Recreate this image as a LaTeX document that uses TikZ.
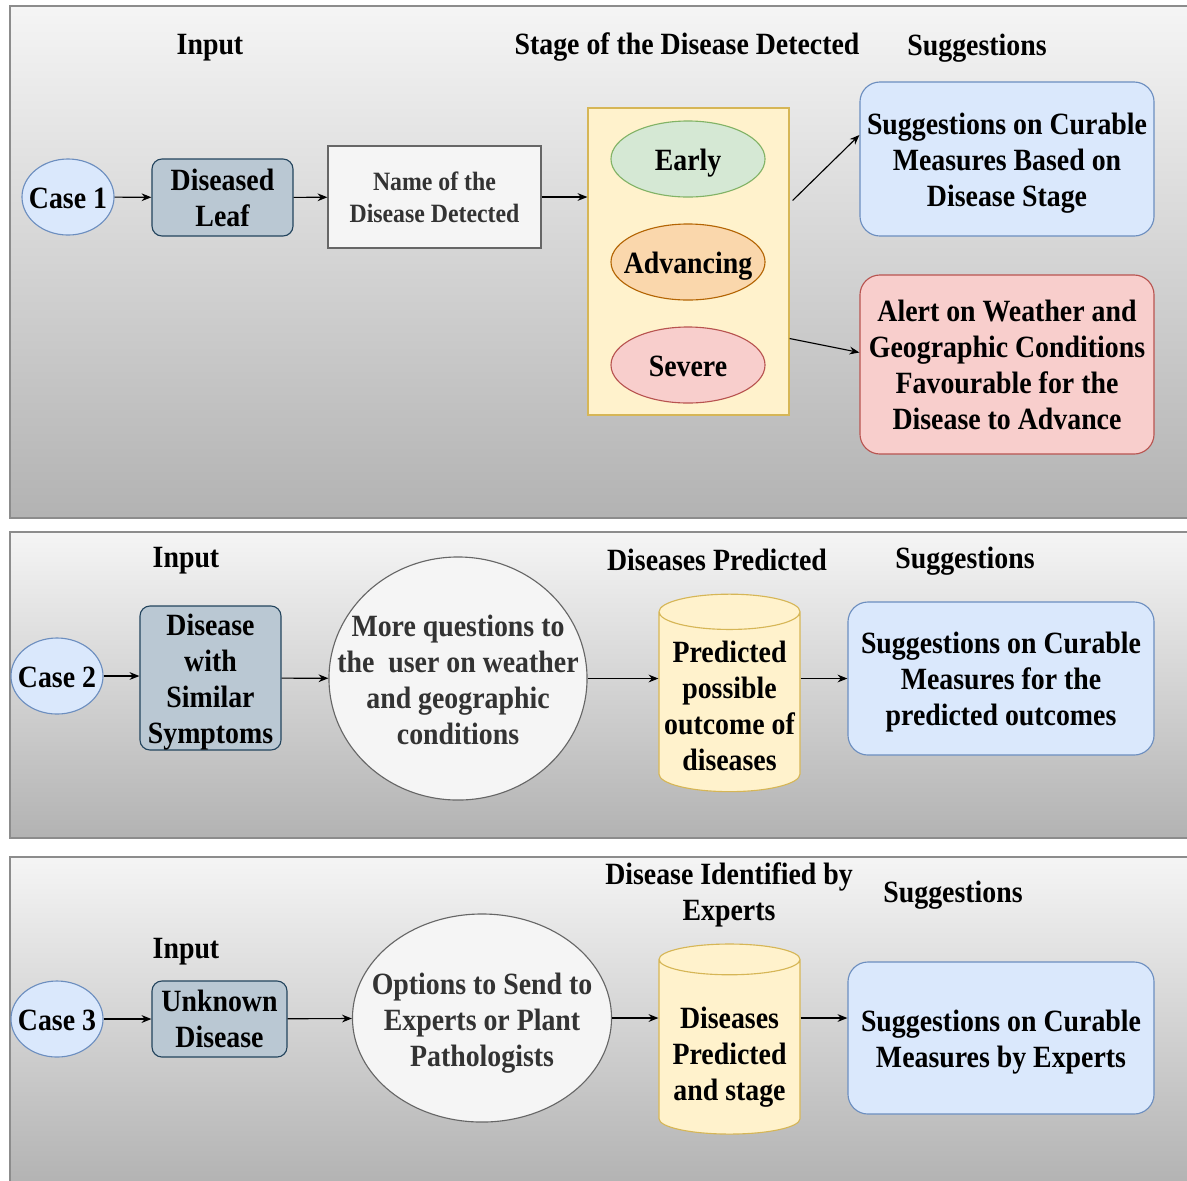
\documentclass[tikz,border=0pt]{standalone}
\usepackage{fontspec}
\setmainfont{Liberation Serif}[FakeStretch=0.9]
\usetikzlibrary{positioning, calc, arrows.meta, shapes.geometric}

\definecolor{caseFill}{HTML}{DAE8FC}
\definecolor{caseLine}{HTML}{6C8EBF}
\definecolor{inFill}{HTML}{BAC8D3}
\definecolor{inLine}{HTML}{23445D}
\definecolor{greyFill}{HTML}{F5F5F5}
\definecolor{greyLine}{HTML}{666666}
\definecolor{greyText}{HTML}{333333}
\definecolor{yelFill}{HTML}{FFF2CC}
\definecolor{yelLine}{HTML}{D6B656}
\definecolor{greenFill}{HTML}{D5E8D4}
\definecolor{greenLine}{HTML}{82B366}
\definecolor{orangeFill}{HTML}{FAD7AC}
\definecolor{orangeLine}{HTML}{B46504}
\definecolor{redFill}{HTML}{F8CECC}
\definecolor{redLine}{HTML}{B85450}

% text lowered a little, and text that does not widen its shape
\newcommand{\sunk}[2][3pt]{\raisebox{-#1}[\height][\depth]{\begin{tabular}{@{}c@{}}#2\end{tabular}}}
\newcommand{\slim}[2][3pt]{\makebox[0pt]{\sunk[#1]{#2}}}

\begin{document}
\begin{tikzpicture}[x=0.025cm, y=-0.025cm,
    txt/.style={font=\fontsize{22}{25.6}\selectfont\bfseries, align=center, inner sep=0pt},
    panel/.style={top color=gray!8, bottom color=gray!60, draw=gray!90, line width=0.8pt},
    casenode/.style={txt, ellipse, draw=caseLine, fill=caseFill, line width=0.8pt,
        minimum width=2.3cm, minimum height=1.9cm},
    inputbox/.style={txt, rectangle, rounded corners=0.25cm, draw=inLine, fill=inFill, line width=0.8pt},
    greyshape/.style={txt, draw=greyLine, fill=greyFill, text=greyText, line width=0.8pt},
    stage/.style={txt, ellipse, line width=0.8pt, minimum width=3.85cm, minimum height=1.9cm},
    roundbox/.style={txt, rectangle, rounded corners=0.5cm, line width=0.8pt, minimum width=7.35cm},
    store/.style={txt, cylinder, shape border rotate=90, aspect=0.27, draw=yelLine, fill=yelFill,
        line width=0.8pt, minimum width=3.525cm, minimum height=4.775cm},
    link/.style={-{Stealth[length=7pt, width=5.5pt]}, line width=0.8pt}
]
\fill[white] (0,0) rectangle (1187,1180);
\useasboundingbox (0,0) rectangle (1187,1180);

% ;- Case 1 ;-
\shade[panel] (10,6) rectangle (1190,518);
\node[txt] (hin1) at (210,48) {Input};
\node[txt] (hst1) at (687,47) {Stage of the Disease Detected};
\node[txt] (hsg1) at (977,48) {Suggestions};

\node[casenode] (case1) at (68,197) {\slim{Case 1}};
\node[inputbox, minimum width=3.525cm, minimum height=1.925cm] (leaf1) at (222.5,197.5) {Diseased\\Leaf};
\node[greyshape, rectangle, minimum width=5.325cm, minimum height=2.55cm,
    font=\fontsize{18.8}{22.7}\selectfont\bfseries] (name1) at (434.5,197) {Name of the\\Disease Detected};
\node[rectangle, draw=yelLine, fill=yelFill, line width=0.8pt,
    minimum width=5.025cm, minimum height=7.675cm] (stage1) at (688.5,261.5) {};
\node[stage, draw=greenLine, fill=greenFill] (early) at (688,159) {\slim{Early}};
\node[stage, draw=orangeLine, fill=orangeFill] (advancing) at (688,262) {\slim{Advancing}};
\node[stage, draw=redLine, fill=redFill] (severe) at (688,365) {\slim{Severe}};
\node[roundbox, draw=caseLine, fill=caseFill, minimum height=3.85cm] (sugg1) at (1007,159)
    {\slim{Suggestions on Curable\\Measures Based on\\Disease Stage}};
\node[roundbox, draw=redLine, fill=redFill, minimum height=4.475cm] (alert1) at (1007,364.5)
    {Alert on Weather and\\Geographic Conditions\\Favourable for the\\Disease to Advance};

\draw[link] (case1) -- (leaf1);
\draw[link] (leaf1) -- (name1);
\draw[link] (name1.east) -- (name1.east -| stage1.west);
\draw[link] ($(stage1.east)+(3,-61)$) -- ($(sugg1.west)+(0,-24)$);
\draw[link] ($(stage1.east)+(0,77)$) -- ($(alert1.west)+(0,-12)$);

% ;- Case 2 ;-
\shade[panel] (10,532) rectangle (1190,838);
\node[txt] (hin2) at (186,561) {Input};
\node[txt] (hdp2) at (717,560) {Diseases Predicted};
\node[txt] (hsg2) at (965,561) {Suggestions};

\node[casenode] (case2) at (57,676) {\slim{Case 2}};
\node[inputbox, minimum width=3.525cm, minimum height=3.5cm] (similar2) at (210.5,678)
    {\slim{Disease\\with\\Similar\\Symptoms}};
\node[greyshape, ellipse, minimum width=6.45cm, minimum height=6.075cm] (questions2) at (458,678.5)
    {\slim[3.5pt]{More questions to\\the\ \ user on weather\\and geographic\\conditions}};
\node[store] (predicted2) at (729.5,702) {\sunk[5pt]{Predicted\\possible\\outcome of\\diseases}};
\node[roundbox, draw=caseLine, fill=caseFill, minimum width=7.65cm, minimum height=3.825cm] (sugg2) at (1001,678.5)
    {\slim{Suggestions on Curable\\Measures for the\\predicted outcomes}};

\draw[link] (case2.east) -- (case2.east -| similar2.west);
\draw[link] (similar2) -- (questions2);
\draw[link] (questions2.east) -- (questions2.east -| predicted2.west);
\draw[link] (predicted2.east |- sugg2.west) -- (sugg2.west);

% ;- Case 3 ;-
\shade[panel] (10,857) rectangle (1190,1185);
\node[txt] (hin3) at (186,952) {Input};
\node[txt] (hde3) at (729,895) {Disease Identified by\\Experts};
\node[txt] (hsg3) at (953,895) {Suggestions};

\node[casenode] (case3) at (57,1019) {\slim{Case 3}};
\node[inputbox, minimum width=3.375cm, minimum height=1.9cm] (unknown3) at (219.5,1019) {Unknown\\Disease};
\node[greyshape, ellipse, minimum width=6.475cm, minimum height=5.2cm] (options3) at (482,1018)
    {\slim[3.5pt]{Options to Send to\\Experts or Plant\\Pathologists}};
\node[store, minimum height=4.75cm] (experts3) at (729.5,1047) {\sunk[7pt]{Diseases\\Predicted\\and stage}};
\node[roundbox, draw=caseLine, fill=caseFill, minimum width=7.65cm, minimum height=3.8cm] (sugg3) at (1001,1038)
    {\slim{Suggestions on Curable\\Measures by Experts}};

\draw[link] (case3) -- (unknown3);
\draw[link] (unknown3) -- (options3);
\draw[link] (options3) -- (options3 -| experts3.west);
\draw[link] (experts3.east |- options3) -- (sugg3.west |- options3);

\end{tikzpicture}
\end{document}
